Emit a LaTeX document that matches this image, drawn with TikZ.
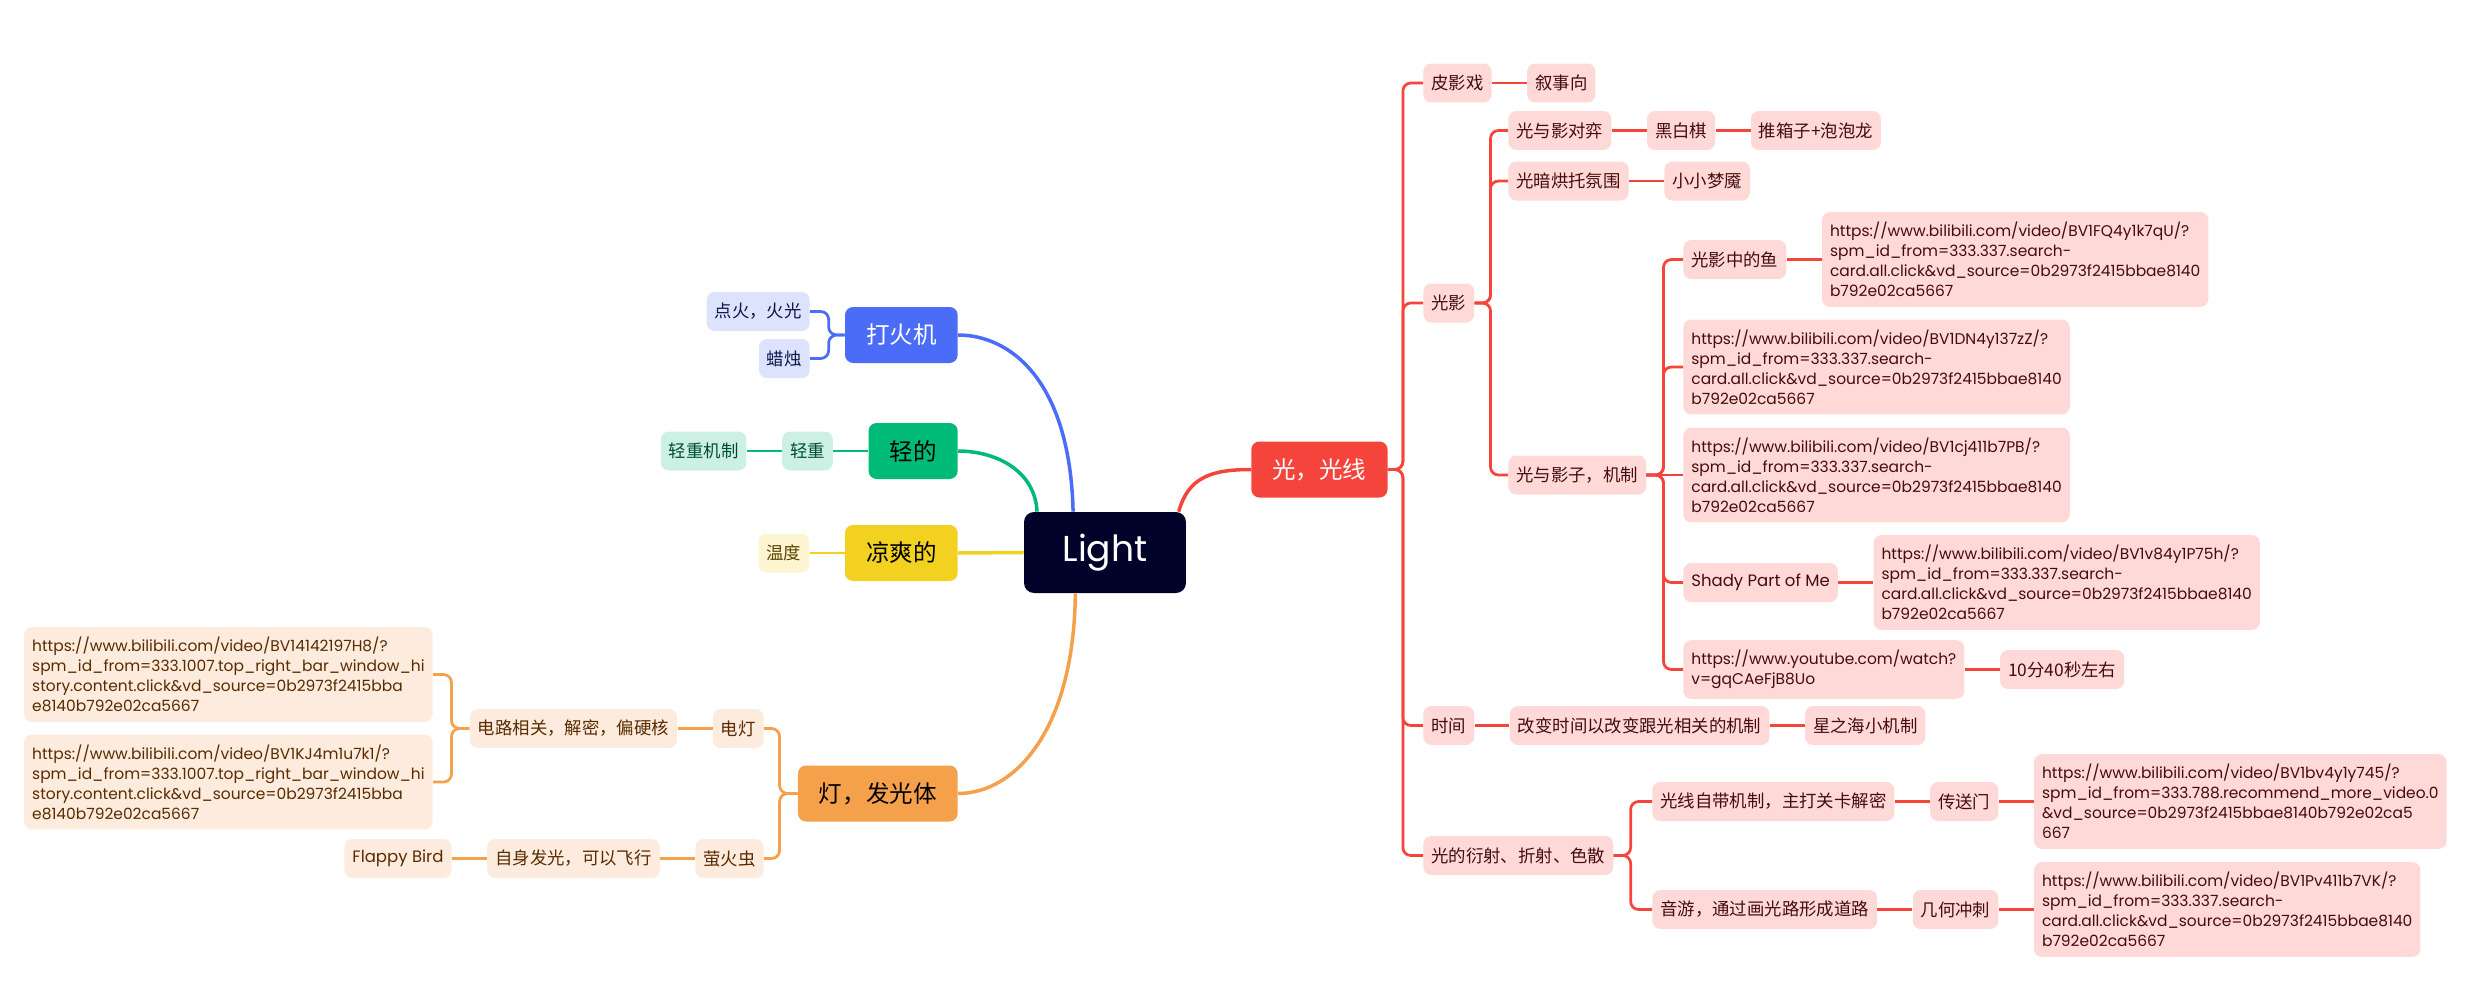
\documentclass[tikz,border=0pt]{standalone}
\usepackage{fontspec}
\usepackage{tikz}
\usetikzlibrary{positioning}
\setmainfont{Noto Sans CJK SC}
\newfontfamily\popfont{Poppins}
\definecolor{rootnavy}{RGB}{0, 2, 41}
\definecolor{cRed}{RGB}{245, 68, 59}
\definecolor{cBlue}{RGB}{74, 108, 247}
\definecolor{cGreen}{RGB}{0, 186, 120}
\definecolor{cYellow}{RGB}{242, 209, 32}
\definecolor{cOrange}{RGB}{245, 160, 75}
\definecolor{redBg}{RGB}{255, 217, 216}
\definecolor{blueBg}{RGB}{221, 226, 253}
\definecolor{greenBg}{RGB}{204, 241, 228}
\definecolor{yellowBg}{RGB}{253, 245, 210}
\definecolor{orangeBg}{RGB}{253, 235, 221}
\definecolor{redTx}{RGB}{70, 12, 12}
\definecolor{blueTx}{RGB}{12, 22, 72}
\definecolor{greenTx}{RGB}{0, 78, 50}
\definecolor{yellowTx}{RGB}{88, 68, 0}
\definecolor{orangeTx}{RGB}{88, 44, 0}
\tikzset{
  rootbox/.style={fill=rootnavy,text=white,rounded corners=0.2cm,
                  minimum width=3.24cm,minimum height=1.62cm,
                  font=\popfont\fontsize{20.5pt}{24pt}\selectfont},
  topic/.style={rounded corners=0.16cm,minimum height=1.12cm,inner xsep=0.42cm,
                font=\fontsize{13.4pt}{16pt}\selectfont},
  leaf/.style={rounded corners=0.16cm,minimum height=0.78cm,inner xsep=0.16cm,
               font=\fontsize{9.9pt}{12pt}\selectfont},
  urlbox/.style={align=left,inner ysep=0.2cm,
                 font=\popfont\fontsize{8.8pt}{11.4pt}\selectfont},
  redsub/.style={leaf,fill=redBg,text=redTx},
  bluesub/.style={leaf,fill=blueBg,text=blueTx},
  greensub/.style={leaf,fill=greenBg,text=greenTx},
  yellowsub/.style={leaf,fill=yellowBg,text=yellowTx},
  orangesub/.style={leaf,fill=orangeBg,text=orangeTx},
  main/.style={line width=0.07cm},
  link/.style={line width=0.055cm,rounded corners=0.16cm},
}
\begin{document}
\begin{tikzpicture}[x=0.02cm,y=-0.02cm]
  \useasboundingbox (0,0) rectangle (2485,984);
  % centre
  \node[rootbox] (light) at (1105,552.5) {Light};

  % left side
  \node[topic,fill=cBlue,text=white,anchor=east] (dahuoji) at (958,335) {打火机};
  \node[bluesub,anchor=east] (dianhuo) at (810,311.5) {点火，火光};
  \node[bluesub,anchor=east] (lazhu) at (810,358.5) {蜡烛};

  \node[topic,fill=cGreen,anchor=east] (qingde) at (958,451) {轻的};
  \node[greensub,left=0.7cm of qingde] (qingzhong) {轻重};
  \node[greensub,left=0.7cm of qingzhong] (qzjizhi) {轻重机制};

  \node[topic,fill=cYellow,anchor=east] (liang) at (958,553) {凉爽的};
  \node[yellowsub,left=0.7cm of liang] (wendu) {温度};

  \node[topic,fill=cOrange,anchor=east] (deng) at (958,793.5) {灯，发光体};
  \node[orangesub,anchor=east] (diandeng) at (764,728.5) {电灯};
  \node[orangesub,anchor=east] (yinghuo) at (764,858.5) {萤火虫};
  \node[orangesub,left=0.7cm of diandeng] (dianlu) {电路相关，解密，偏硬核};
  \node[orangesub,urlbox,anchor=east] (urlA) at (433,674.5)
       {https://www.bilibili.com/video/BV14142197H8/?\\
        spm\_id\_from=333.1007.top\_right\_bar\_window\_hi\\
        story.content.click\&vd\_source=0b2973f2415bba\\
        e8140b792e02ca5667};
  \node[orangesub,urlbox,anchor=east] (urlB) at (433,782)
       {https://www.bilibili.com/video/BV1KJ4m1u7k1/?\\
        spm\_id\_from=333.1007.top\_right\_bar\_window\_hi\\
        story.content.click\&vd\_source=0b2973f2415bba\\
        e8140b792e02ca5667};
  \node[orangesub,left=0.7cm of yinghuo] (zishen) {自身发光，可以飞行};
  \node[orangesub,left=0.7cm of zishen,font=\popfont\fontsize{9.4pt}{12pt}\selectfont] (flappy) {Flappy Bird};

  % right side
  \node[topic,fill=cRed,text=white,anchor=west] (guang) at (1251,469.5) {光，光线};
  \node[redsub,anchor=west] (piying) at (1423,83) {皮影戏};
  \node[redsub,right=0.7cm of piying] (xushi) {叙事向};
  \node[redsub,anchor=west] (guangying) at (1423,303) {光影};
  \node[redsub,anchor=west] (duiyi) at (1508,130.5) {光与影对弈};
  \node[redsub,right=0.7cm of duiyi] (heibai) {黑白棋};
  \node[redsub,right=0.7cm of heibai] (tuixiang) {推箱子+泡泡龙};
  \node[redsub,anchor=west] (hongtuo) at (1508,181) {光暗烘托氛围};
  \node[redsub,right=0.7cm of hongtuo] (mengyan) {小小梦魇};
  \node[redsub,anchor=west] (jizhi) at (1508,475) {光与影子，机制};
  \node[redsub,anchor=west] (yu) at (1683,259.5) {光影中的鱼};
  \node[redsub,urlbox,right=0.7cm of yu] (urlYu)
       {https://www.bilibili.com/video/BV1FQ4y1k7qU/?\\
        spm\_id\_from=333.337.search-\\
        card.all.click\&vd\_source=0b2973f2415bbae8140\\
        b792e02ca5667};
  \node[redsub,urlbox,anchor=west] (urlDN) at (1683,367)
       {https://www.bilibili.com/video/BV1DN4y137zZ/?\\
        spm\_id\_from=333.337.search-\\
        card.all.click\&vd\_source=0b2973f2415bbae8140\\
        b792e02ca5667};
  \node[redsub,urlbox,anchor=west] (urlCJ) at (1683,475)
       {https://www.bilibili.com/video/BV1cj411b7PB/?\\
        spm\_id\_from=333.337.search-\\
        card.all.click\&vd\_source=0b2973f2415bbae8140\\
        b792e02ca5667};
  \node[redsub,anchor=west,font=\popfont\fontsize{9.4pt}{12pt}\selectfont] (shady) at (1683,582.5) {Shady Part of Me};
  \node[redsub,urlbox,right=0.7cm of shady] (urlShady)
       {https://www.bilibili.com/video/BV1v84y1P75h/?\\
        spm\_id\_from=333.337.search-\\
        card.all.click\&vd\_source=0b2973f2415bbae8140\\
        b792e02ca5667};
  \node[redsub,urlbox,anchor=west] (yt) at (1683,669.5)
       {https://www.youtube.com/watch?\\
        v=gqCAeFjB8Uo};
  \node[redsub,right=0.7cm of yt] (shifen) {10分40秒左右};
  \node[redsub,anchor=west] (shijian) at (1423,725.5) {时间};
  \node[redsub,right=0.7cm of shijian] (gaibian) {改变时间以改变跟光相关的机制};
  \node[redsub,right=0.7cm of gaibian] (xingzhi) {星之海小机制};
  \node[redsub,anchor=west] (yanshe) at (1423,855.5) {光的衍射、折射、色散};
  \node[redsub,anchor=west] (zidai) at (1652,801.5) {光线自带机制，主打关卡解密};
  \node[redsub,right=0.7cm of zidai] (chuansong) {传送门};
  \node[redsub,urlbox,right=0.7cm of chuansong] (urlCS)
       {https://www.bilibili.com/video/BV1bv4y1y745/?\\
        spm\_id\_from=333.788.recommend\_more\_video.0\\
        \&vd\_source=0b2973f2415bbae8140b792e02ca5\\
        667};
  \node[redsub,anchor=west] (yinyou) at (1652,909.5) {音游，通过画光路形成道路};
  \node[redsub,right=0.7cm of yinyou] (jihe) {几何冲刺};
  \node[redsub,urlbox,right=0.7cm of jihe] (urlJH)
       {https://www.bilibili.com/video/BV1Pv411b7VK/?\\
        spm\_id\_from=333.337.search-\\
        card.all.click\&vd\_source=0b2973f2415bbae8140\\
        b792e02ca5667};

  % main branches
  \draw[main,cBlue] (dahuoji.east) .. controls (1010,335) and (1070,380) .. (light.128);
  \draw[main,cGreen] (qingde.east) .. controls (995,451) and (1035,470) .. (light.149);
  \draw[main,cYellow] (liang.east) -- (light.west);
  \draw[main,cOrange] (deng.east) .. controls (1015,793.5) and (1074,730) .. (light.234);
  \draw[main,cRed] (light.29) .. controls (1188,478) and (1210,469.5) .. (guang.west);

  % sub links
  \foreach \c in {dianhuo,lazhu}
    \draw[link,cBlue] (dahuoji.west) -- ++(-16,0) |- (\c.east);
  \draw[link,cGreen] (qingde) -- (qingzhong) -- (qzjizhi);
  \draw[link,cYellow] (liang) -- (wendu);
  \foreach \c in {diandeng,yinghuo}
    \draw[link,cOrange] (deng.west) -- ++(-18,0) |- (\c.east);
  \foreach \c in {urlA,urlB}
    \draw[link,cOrange] (dianlu.west) -- ++(-18,0) |- (\c.east);
  \draw[link,cOrange] (diandeng) -- (dianlu);
  \draw[link,cOrange] (yinghuo) -- (zishen) -- (flappy);

  \foreach \c in {piying,guangying,shijian,yanshe}
    \draw[link,cRed] (guang.east) -- ++(15,0) |- (\c.west);
  \foreach \c in {duiyi,hongtuo,jizhi}
    \draw[link,cRed] (guangying.east) -- ++(16,0) |- (\c.west);
  \foreach \c in {yu,urlDN,shady,yt}
    \draw[link,cRed] (jizhi.east) -- ++(17,0) |- (\c.west);
  \draw[link,cRed] (jizhi) -- (urlCJ);
  \foreach \c in {zidai,yinyou}
    \draw[link,cRed] (yanshe.east) -- ++(17,0) |- (\c.west);
  \draw[link,cRed] (piying) -- (xushi);
  \draw[link,cRed] (duiyi) -- (heibai) -- (tuixiang);
  \draw[link,cRed] (hongtuo) -- (mengyan);
  \draw[link,cRed] (yu) -- (urlYu);
  \draw[link,cRed] (shady) -- (urlShady);
  \draw[link,cRed] (yt) -- (shifen);
  \draw[link,cRed] (shijian) -- (gaibian) -- (xingzhi);
  \draw[link,cRed] (zidai) -- (chuansong) -- (urlCS);
  \draw[link,cRed] (yinyou) -- (jihe) -- (urlJH);
\end{tikzpicture}
\end{document}
